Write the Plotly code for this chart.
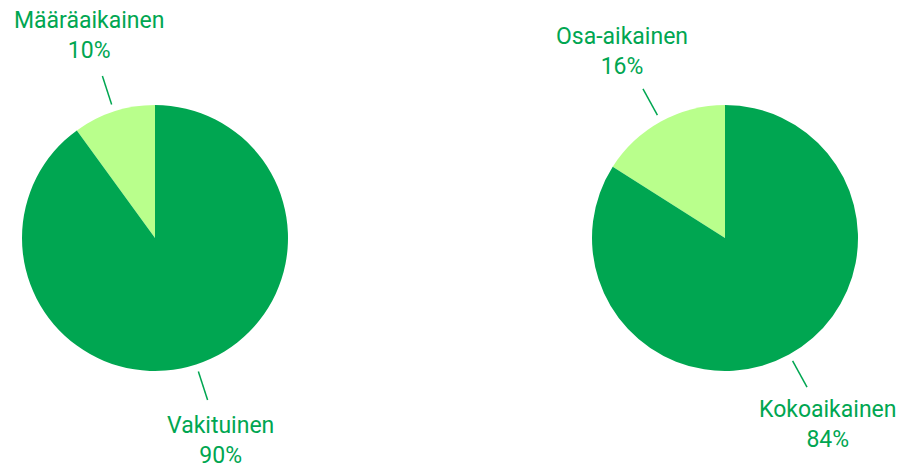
import math
import plotly.graph_objects as go

# data
left_labels = ['Määräaikainen', 'Vakituinen']
left_values = [10, 90]
right_labels = ['Osa-aikainen', 'Kokoaikainen']
right_values = [16, 84]

GREEN = '#00a651'
LIGHT = '#b9ff8c'
W, H = 898, 467
R = 133  # pie radius in px
FONT = 'Roboto'


def pie_domain(cx, cy):
    # cx, cy in px from top-left
    return dict(x=[(cx - R) / W, (cx + R) / W],
                y=[(H - cy - R) / H, (H - cy + R) / H])


def add_labels(fig, cx, cy, labels, values):
    '''leader lines + two-line labels at each slice's mid angle'''
    total = sum(values)
    start = 0
    for lab, val in zip(labels, values):
        span = 360 * val / total
        mid = math.radians(start + span / 2)   # ccw from 12 o'clock
        start += span
        sx, sy = -math.sin(mid), math.cos(mid)

        def pt(r):
            return (cx + sx * r) / W, (H - cy + sy * r) / H
        x0, y0 = pt(R * 1.055)
        x1, y1 = pt(R * 1.28)
        fig.add_shape(type='line', xref='paper', yref='paper',
                      x0=x0, y0=y0, x1=x1, y1=y1,
                      line=dict(color=GREEN, width=1.5))
        tx, ty = pt(R * 1.6)
        fig.add_annotation(x=tx, y=ty, xref='paper', yref='paper',
                           text=f'{lab}<br>{val}%', showarrow=False,
                           xanchor='center', yanchor='middle',
                           font=dict(family=FONT, size=23, color=GREEN))


def pie(labels, values, cx, cy):
    # first slice ends at 12 o'clock, lying on its left
    rot = -360 * values[0] / sum(values)
    return go.Pie(labels=labels, values=values, sort=False,
                  direction='clockwise', rotation=rot,
                  marker=dict(colors=[LIGHT, GREEN]), textinfo='none',
                  hoverinfo='label+percent', domain=pie_domain(cx, cy))


fig = go.Figure()
fig.add_trace(pie(left_labels, left_values, 155, 238))
fig.add_trace(pie(right_labels, right_values, 725, 238))

add_labels(fig, 155, 238, left_labels, left_values)
add_labels(fig, 725, 238, right_labels, right_values)

fig.update_layout(width=W, height=H, showlegend=False,
                  margin=dict(l=0, r=0, t=0, b=0),
                  paper_bgcolor='white', plot_bgcolor='white',
                  font=dict(family=FONT))

fig.write_html('out.html', config={'displayModeBar': False},
               post_script="document.body.style.margin='0';")
